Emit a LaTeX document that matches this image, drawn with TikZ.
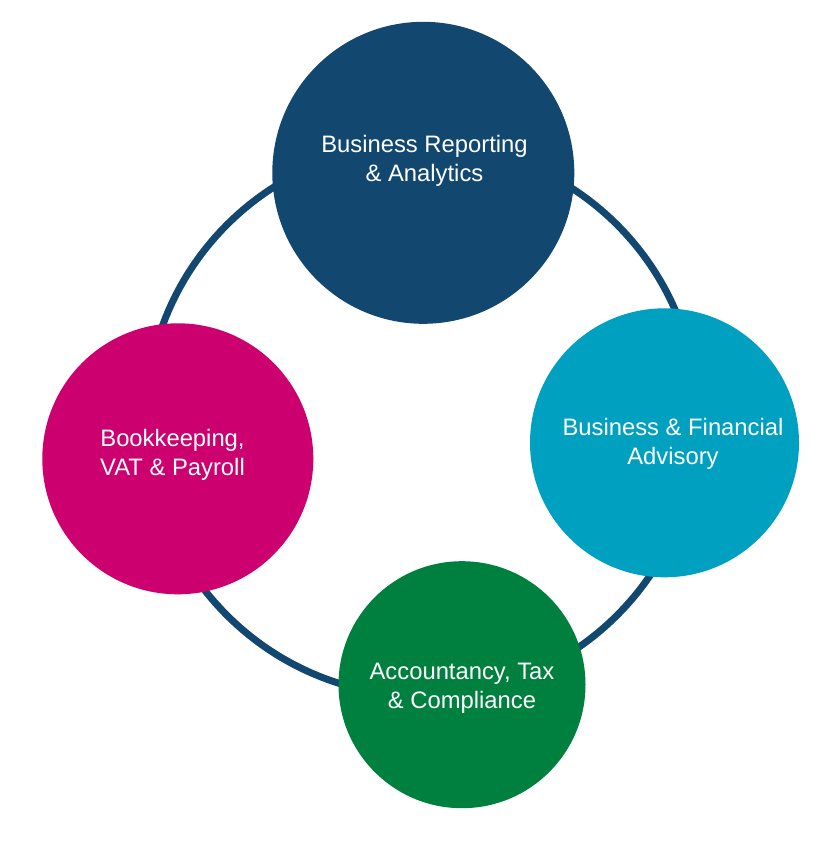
\documentclass[tikz,border=0pt]{standalone}
\usepackage{fontspec}
\setmainfont{Liberation Sans}
\definecolor{cnavy}{RGB}{18,72,112}
\definecolor{ccyan}{RGB}{0,160,192}
\definecolor{cmagenta}{RGB}{204,0,110}
\definecolor{cgreen}{RGB}{0,128,63}
\begin{document}
\begin{tikzpicture}[x=1pt,y=-1pt,
  bubble/.style={circle,inner sep=0pt,draw=none},
  lbl/.style={text=white,inner sep=0pt,anchor=base,font=\fontsize{23.8}{29}\selectfont},
  ring/.style={draw=cnavy,line width=7pt}]
\useasboundingbox (0,0) rectangle (840,844);
\draw[ring] (422,420) circle[radius=276];
\node[bubble,fill=cnavy,minimum size=302pt] (top) at (423.3,172.8) {};
\node[bubble,fill=ccyan,minimum size=269pt] (right) at (664.5,442.8) {};
\node[bubble,fill=cmagenta,minimum size=271pt] (left) at (177.8,458.8) {};
\node[bubble,fill=cgreen,minimum size=247pt] (bottom) at (462,684.7) {};
\node[lbl] (toptext) at (424.5,152) {\begin{tabular}[t]{@{}c@{}}Business Reporting\\\& Analytics\end{tabular}};
\node[lbl] (righttext) at (673,435) {\begin{tabular}[t]{@{}c@{}}Business \& Financial\\Advisory\end{tabular}};
\node[lbl] (lefttext) at (172.5,446) {\begin{tabular}[t]{@{}c@{}}Bookkeeping,\\VAT \& Payroll\end{tabular}};
\node[lbl] (bottomtext) at (462,679) {\begin{tabular}[t]{@{}c@{}}Accountancy, Tax\\\& Compliance\end{tabular}};
\end{tikzpicture}
\end{document}
